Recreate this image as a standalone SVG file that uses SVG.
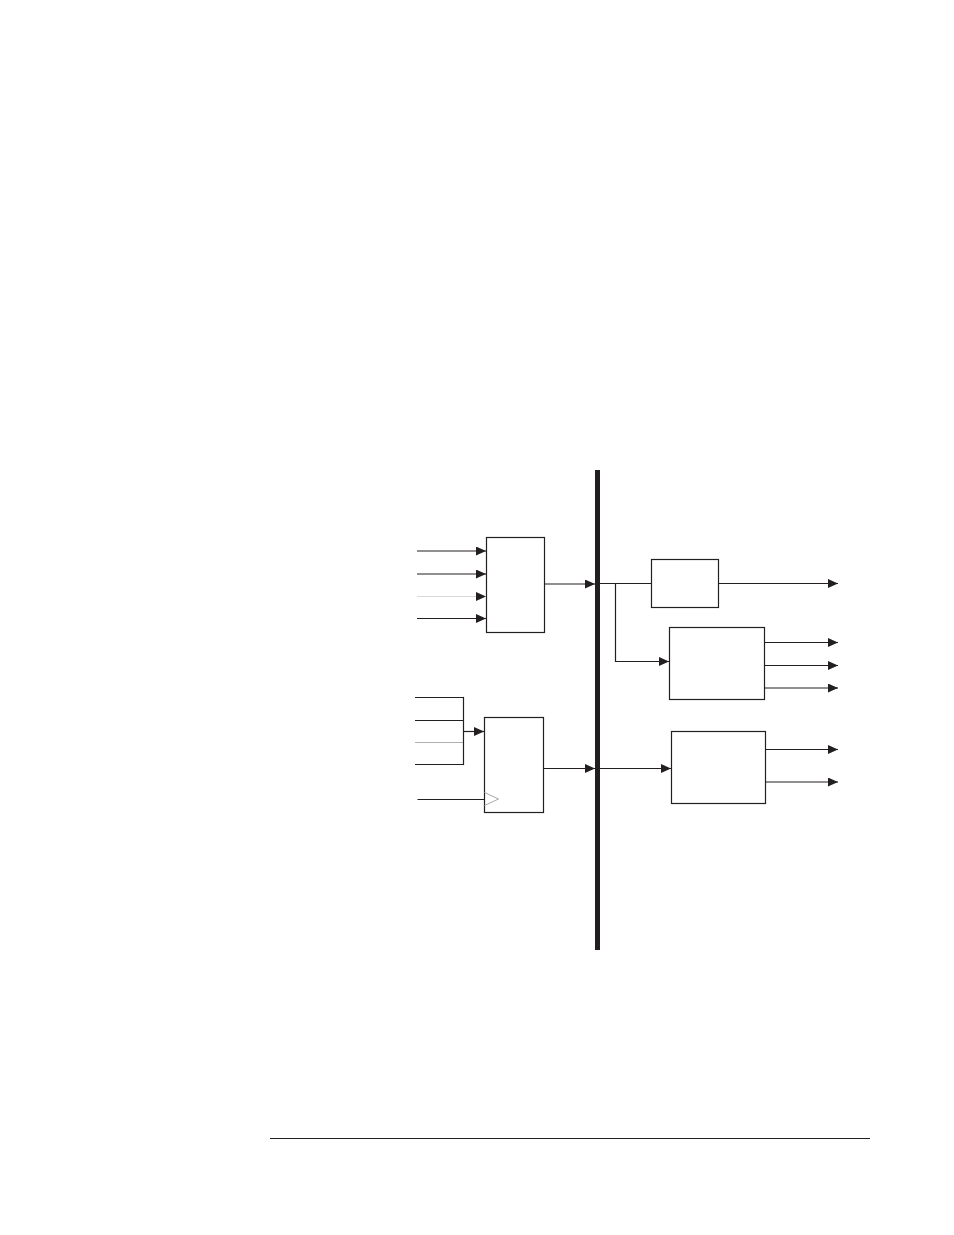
<svg xmlns="http://www.w3.org/2000/svg" width="954" height="1235" viewBox="0 0 954 1235">
<style>
.box{fill:#fff;stroke:#231f20;stroke-width:1.2}
.ln{fill:none;stroke:#231f20;stroke-width:1.2}
.lg{fill:none;stroke:#d8d8d8;stroke-width:1.2}
.ah{fill:#231f20}
</style>
<defs>
<marker id="arr" markerWidth="10" markerHeight="9" refX="10" refY="4.5" orient="auto" markerUnits="userSpaceOnUse">
<path class="ah" d="M0,0 L10,4.5 L0,9 Z"/>
</marker>
</defs>
<rect width="954" height="1235" fill="#fff"/>
<g id="bus"><rect x="595" y="470" width="5" height="480" fill="#231f20"/></g>
<g id="reg1"><rect class="box" x="486.5" y="537.5" width="58" height="95"/></g>
<g id="reg2"><rect class="box" x="484.5" y="717.5" width="59" height="95"/>
<path d="M484.5,792.5 L498.5,799 L484.5,805.5" fill="none" stroke="#aaa" stroke-width="1"/></g>
<g id="blockA"><rect class="box" x="651.5" y="559.5" width="67" height="48"/></g>
<g id="blockB"><rect class="box" x="669.5" y="627.5" width="95" height="72"/></g>
<g id="blockC"><rect class="box" x="671.5" y="731.5" width="94" height="72"/></g>
<g id="connectors">
<line class="ln" x1="417" y1="551" x2="486" y2="551" marker-end="url(#arr)"/>
<line class="ln" x1="417" y1="574" x2="486" y2="574" marker-end="url(#arr)"/>
<line class="lg" x1="417" y1="596.5" x2="476" y2="596.5"/>
<path class="ah" d="M476,592 L486,596.5 L476,601 Z"/>
<line class="ln" x1="417" y1="618.5" x2="486" y2="618.5" marker-end="url(#arr)"/>
<line class="ln" x1="544" y1="584" x2="595" y2="584" marker-end="url(#arr)"/>
<line class="ln" x1="600" y1="583.5" x2="651.5" y2="583.5"/>
<line class="ln" x1="718.5" y1="583.5" x2="838" y2="583.5" marker-end="url(#arr)"/>
<polyline class="ln" points="615.5,583.5 615.5,661.5 669,661.5" marker-end="url(#arr)"/>
<line class="ln" x1="764.5" y1="642.5" x2="838" y2="642.5" marker-end="url(#arr)"/>
<line class="ln" x1="764.5" y1="665.5" x2="838" y2="665.5" marker-end="url(#arr)"/>
<line class="ln" x1="764.5" y1="688" x2="838" y2="688" marker-end="url(#arr)"/>
<line class="ln" x1="415" y1="697.5" x2="463.5" y2="697.5"/>
<line class="ln" x1="415" y1="720.5" x2="463.5" y2="720.5"/>
<line class="lg" x1="415" y1="742.5" x2="463.5" y2="742.5" style="stroke:#b0b0b0"/>
<line class="ln" x1="415" y1="764.5" x2="463.5" y2="764.5"/>
<line class="ln" x1="463.5" y1="696.9" x2="463.5" y2="765.1"/>
<line class="ln" x1="463.5" y1="731.5" x2="484" y2="731.5" marker-end="url(#arr)"/>
<line class="ln" x1="417.5" y1="799.5" x2="484.5" y2="799.5"/>
<line class="ln" x1="543.5" y1="768.5" x2="595" y2="768.5" marker-end="url(#arr)"/>
<line class="ln" x1="600" y1="768.5" x2="671" y2="768.5" marker-end="url(#arr)"/>
<line class="ln" x1="765.5" y1="749.5" x2="838" y2="749.5" marker-end="url(#arr)"/>
<line class="ln" x1="765.5" y1="782" x2="838" y2="782" marker-end="url(#arr)"/>
</g>
<g id="footer"><line x1="270" y1="1138.5" x2="870" y2="1138.5" stroke="#231f20" stroke-width="1.2"/></g>
</svg>
